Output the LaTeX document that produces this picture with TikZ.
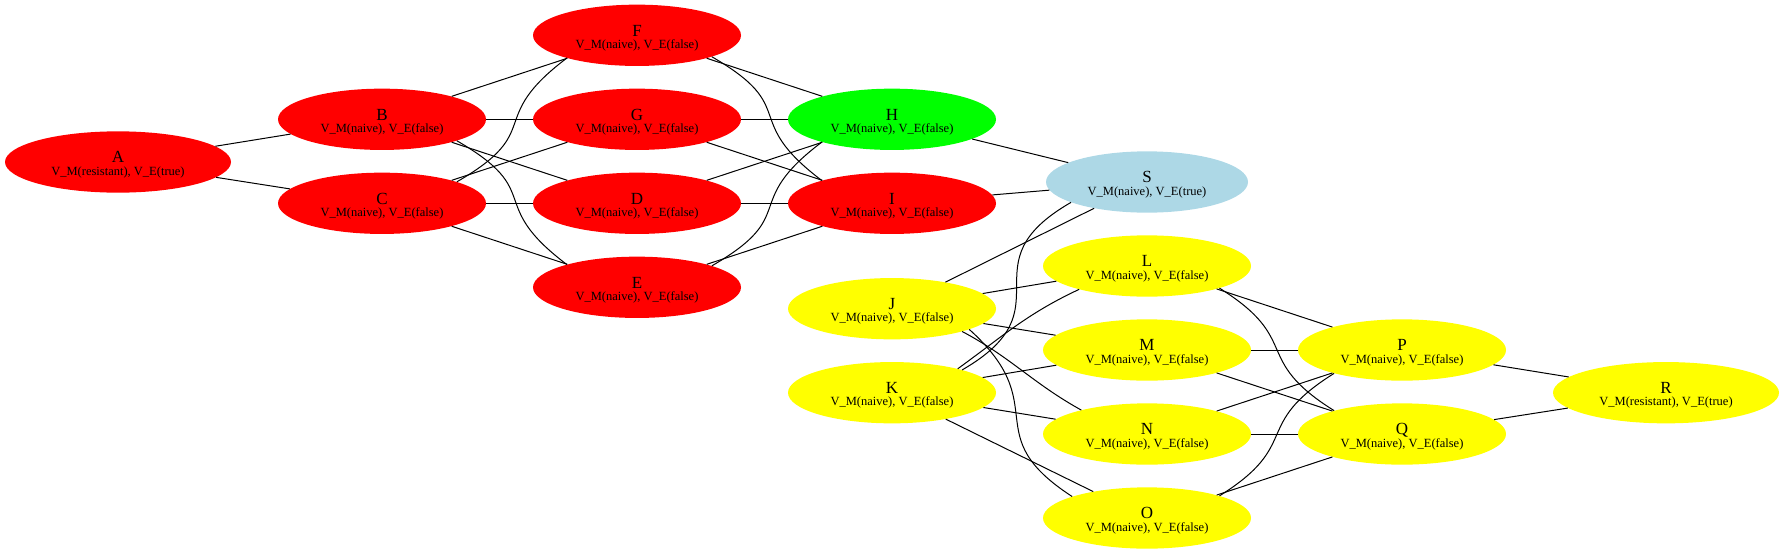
\documentclass[tikz,border=0pt]{standalone}
\usepackage{fontspec}
\setmainfont{Liberation Serif}
\usetikzlibrary{shapes.geometric}
\newcommand\nlab[2]{\makebox[0pt]{\fontsize{17}{17}\selectfont #1}\makebox[0pt]{\raisebox{-12.5pt}{\fontsize{12.5}{12.5}\selectfont #2}}}
\definecolor{gvred}{HTML}{FF0000}
\definecolor{gvgreen}{HTML}{00FF00}
\definecolor{gvyellow}{HTML}{FFFF00}
\definecolor{gvblue}{HTML}{ADD8E6}
\begin{document}
\begin{tikzpicture}[x=1pt,y=1pt,
  st/.style={ellipse, inner sep=0pt, minimum width=208pt, minimum height=61.3pt,
             text height=14pt, text depth=12.5pt},
  wide/.style={minimum width=226pt},
  narrow/.style={minimum width=202pt},
  rn/.style={st, fill=gvred},
  gn/.style={st, fill=gvgreen},
  yn/.style={st, fill=gvyellow},
  bn/.style={st, fill=gvblue},
  ed/.style={line width=1pt, black}]
\useasboundingbox (0,0) rectangle (1784,-554);
\def\nf{V\_M(naive), V\_E(false)}
\node[rn, wide] (A) at (118,-162) {\nlab{A}{V\_M(resistant), V\_E(true)}};
\node[rn] (B) at (382,-119.3) {\nlab{B}{\nf}};
\node[rn] (C) at (382,-203.3) {\nlab{C}{\nf}};
\node[rn] (F) at (637,-35.3) {\nlab{F}{\nf}};
\node[rn] (G) at (637,-119.3) {\nlab{G}{\nf}};
\node[rn] (D) at (637,-203.3) {\nlab{D}{\nf}};
\node[rn] (E) at (637,-287.3) {\nlab{E}{\nf}};
\node[gn] (H) at (892,-119.3) {\nlab{H}{\nf}};
\node[rn] (I) at (892,-203.3) {\nlab{I}{\nf}};
\node[yn] (J) at (892,-308.7) {\nlab{J}{\nf}};
\node[yn] (K) at (892,-392.7) {\nlab{K}{\nf}};
\node[bn, narrow] (S) at (1147,-182) {\nlab{S}{V\_M(naive), V\_E(true)}};
\node[yn] (L) at (1147,-266) {\nlab{L}{\nf}};
\node[yn] (M) at (1147,-350) {\nlab{M}{\nf}};
\node[yn] (N) at (1147,-434) {\nlab{N}{\nf}};
\node[yn] (O) at (1147,-518) {\nlab{O}{\nf}};
\node[yn] (P) at (1402,-350) {\nlab{P}{\nf}};
\node[yn] (Q) at (1402,-434) {\nlab{Q}{\nf}};
\node[yn, wide] (R) at (1666,-392.7) {\nlab{R}{V\_M(resistant), V\_E(true)}};
% straight edges
\draw[ed] (A) -- (B);
\draw[ed] (A) -- (C);
\draw[ed] (B) -- (F);
\draw[ed] (B) -- (G);
\draw[ed] (B) -- (D);
\draw[ed] (C) -- (G);
\draw[ed] (C) -- (D);
\draw[ed] (C) -- (E);
\draw[ed] (F) -- (H);
\draw[ed] (G) -- (H);
\draw[ed] (G) -- (I);
\draw[ed] (D) -- (H);
\draw[ed] (D) -- (I);
\draw[ed] (E) -- (I);
\draw[ed] (H) -- (S);
\draw[ed] (I) -- (S);
\draw[ed] (J) -- (S);
\draw[ed] (J) -- (L);
\draw[ed] (J) -- (M);
\draw[ed] (K) -- (M);
\draw[ed] (K) -- (N);
\draw[ed] (K) -- (O);
\draw[ed] (L) -- (P);
\draw[ed] (M) -- (P);
\draw[ed] (M) -- (Q);
\draw[ed] (N) -- (P);
\draw[ed] (N) -- (Q);
\draw[ed] (O) -- (Q);
\draw[ed] (P) -- (R);
\draw[ed] (Q) -- (R);
% curved edges
\draw[ed] (B.-16.6) to[out=-30, in=143, looseness=1.6] (E.162.3);
\draw[ed] (C.16.6) to[out=30, in=-143, looseness=1.6] (F.-162.3);
\draw[ed] (F.-16.6) to[out=-30, in=143, looseness=1.6] (I.162.3);
\draw[ed] (E.16.6) to[out=30, in=-143, looseness=1.6] (H.-162.3);
\draw[ed] (K.18.7) to[out=30, in=-150, looseness=1.6] (S.-165);
\draw[ed] (K.20) to[out=36, in=-155, looseness=1] (L.-161.6);
\draw[ed] (J.-18.6) to[out=-28, in=151, looseness=1] (N.160.8);
\draw[ed] (J.-15.8) to[out=-42, in=147, looseness=1.5] (O.164);
\draw[ed] (L.-17.7) to[out=-32, in=148, looseness=1.5] (Q.161);
\draw[ed] (O.17.7) to[out=32, in=-148, looseness=1.5] (P.-161);
\end{tikzpicture}
\end{document}
